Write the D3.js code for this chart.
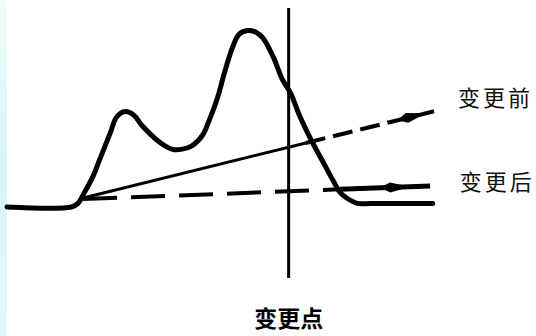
<!DOCTYPE html>
<html><head><meta charset="utf-8">
<script src="https://cdn.jsdelivr.net/npm/d3@7"></script>
<style>html,body{margin:0;padding:0;background:#fff;overflow:hidden}</style>
</head><body>
<script>
// ---- data (time units on x, level on y) ----
const curveX = [0,15,16.5,18,20,21.5,24,25.5,27.5,29.5,31.5,35.5,38.5,40.5,43,45.5,47,49,50.5,52.5,54,56,58,59.5,62,64,66,68,71,73.5,76,77.5,79,81.5,84.5,99];
const curveY = [0,0,2,8,17,26,41,50,53,51,45,36,32,32,34,40,48,61,74,89,96,98,97,94,83,71,63,51,36,25,14,8,5,2,2,2];
const changePoint = 65.5;
const beforeLine = {x0:17.7, y0:5, x1:100.7, y1:54, split:69.5, arrow:93.7};
const afterLine  = {x0:17.7, y0:4.4, x1:98.4, y1:11.7, split:77.4, arrow:89.8};
const labels = [
  {text:"变更前", x:104.9, y:61.7},
  {text:"变更后", x:105.3, y:15}
];
const changeLabel = "变更点";

// ---- layout ----
const W = 536, H = 336;
const x = d3.scaleLinear().domain([0,100]).range([7,437]);
const y = d3.scaleLinear().domain([0,100]).range([207,27]);

const svg = d3.select("body").append("svg").attr("width",W).attr("height",H);
// light cyan strip at left edge
const grad = svg.append("defs").append("linearGradient").attr("id","strip")
  .attr("x1",0).attr("x2",0).attr("y1",0).attr("y2",1);
grad.append("stop").attr("offset","0%").attr("stop-color","#eefcfc");
grad.append("stop").attr("offset","50%").attr("stop-color","#d6f5f8");
grad.append("stop").attr("offset","100%").attr("stop-color","#e4f8fa");
svg.append("rect").attr("x",0).attr("y",0).attr("width",7).attr("height",H).attr("fill","url(#strip)");

// main curve
const pts = curveX.map((v,i)=>[v,curveY[i]]);
svg.append("path").datum(pts)
  .attr("d", d3.line().x(d=>x(d[0])).y(d=>y(d[1])).curve(d3.curveCatmullRom.alpha(0.5)))
  .attr("fill","none").attr("stroke","#000").attr("stroke-width",5)
  .attr("stroke-linecap","round").attr("stroke-linejoin","round");

// change point vertical line
svg.append("line").attr("x1",x(changePoint)).attr("x2",x(changePoint))
  .attr("y1",y(110.5)).attr("y2",y(-39.5))
  .attr("stroke","#000").attr("stroke-width",3);

function lerpY(L, xv){ return L.y0 + (L.y1-L.y0)*(xv-L.x0)/(L.x1-L.x0); }
function seg(L, xa, xb, dashed, w, dash){
  const s = svg.append("line")
    .attr("x1",x(xa)).attr("y1",y(lerpY(L,xa)))
    .attr("x2",x(xb)).attr("y2",y(lerpY(L,xb)))
    .attr("stroke","#000").attr("stroke-width",w);
  if (dashed) s.attr("stroke-dasharray",dash);
}
function arrow(L, xv){
  const px = x(xv), py = y(lerpY(L,xv));
  const ang = Math.atan2(y(L.y1)-y(L.y0), x(L.x1)-x(L.x0))*180/Math.PI;
  svg.append("path").attr("d","M-13,0 L-3,-5 L11,-1.5 L11,1.5 L-3,5 Z")
    .attr("transform",`translate(${px},${py}) rotate(${ang})`).attr("fill","#000");
}
// before change: solid then dashed
seg(beforeLine, beforeLine.x0, beforeLine.split, false, 3);
seg(beforeLine, beforeLine.split, beforeLine.x1, true, 4, "20 8");
arrow(beforeLine, beforeLine.arrow);
// after change: dashed then solid
seg(afterLine, afterLine.x0, afterLine.split, true, 4, "34 14");
seg(afterLine, afterLine.split, afterLine.x1, false, 5);
arrow(afterLine, afterLine.arrow);

// labels
svg.selectAll("text.lab").data(labels).enter().append("text")
  .attr("class","lab").attr("x",d=>x(d.x)).attr("y",d=>y(d.y))
  .attr("dominant-baseline","central").attr("font-family","'Noto Sans CJK SC'")
  .attr("font-size",22).attr("letter-spacing",3).attr("fill","#111").text(d=>d.text);
svg.append("text").attr("x",x(changePoint)).attr("y",317)
  .attr("text-anchor","middle").attr("dominant-baseline","central")
  .attr("font-family","'Noto Sans CJK SC'").attr("font-weight","bold")
  .attr("font-size",23).attr("fill","#000").text(changeLabel);
</script>
</body></html>
